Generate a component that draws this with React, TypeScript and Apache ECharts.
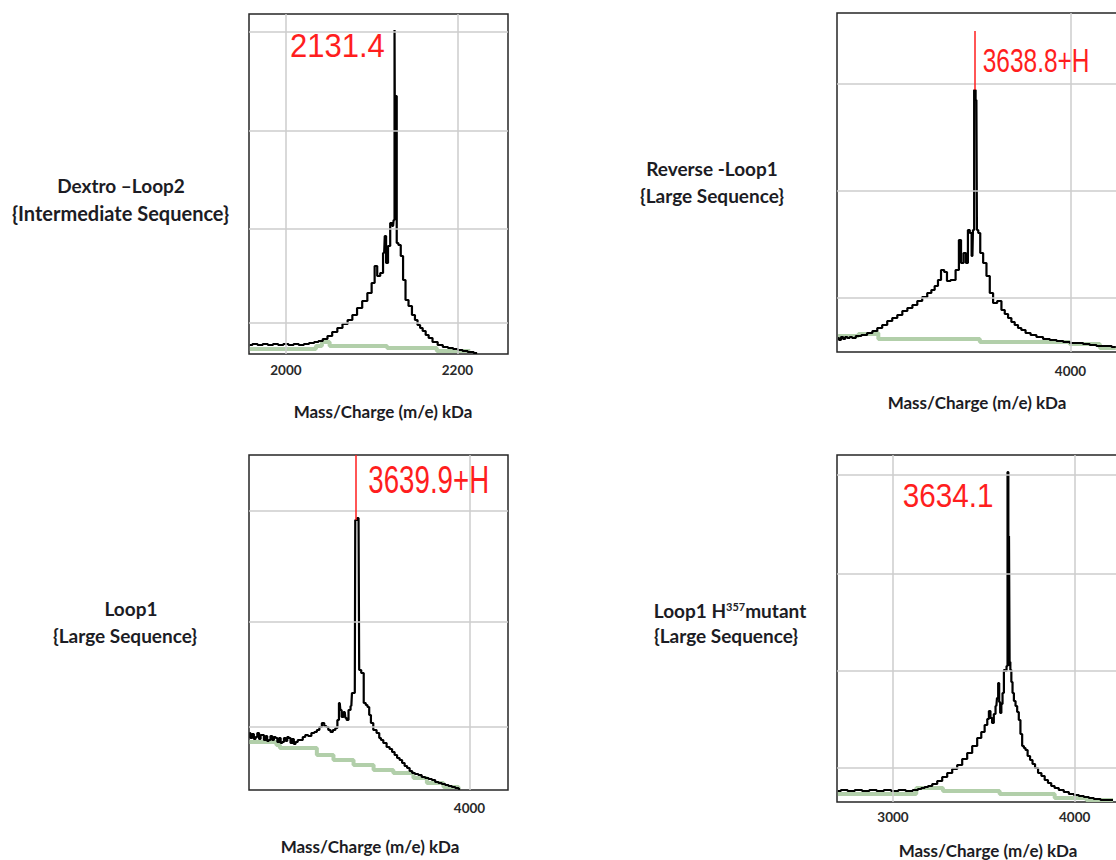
import React, { useEffect, useRef } from "react";
import * as echarts from "echarts";

// ---------- Panel 1: Dextro –Loop2 (m/z vs intensity, a.u.) ----------
const dextroSpectrum: number[][] = [
  [1958, 9], [1964, 10], [1970, 9], [1976, 10], [1982, 9], [1988, 10], [1994, 9], [2000, 10],
  [2006, 9], [2012, 10], [2018, 9], [2024, 10], [2030, 11], [2036, 12], [2040, 13], [2046, 15],
  [2051, 18], [2057, 22], [2063, 26], [2069, 30], [2075, 34], [2080, 39], [2086, 46], [2092, 53],
  [2098, 61], [2102, 71], [2105, 88], [2108, 78], [2112, 81], [2114.6, 101], [2116, 118],
  [2117.7, 91], [2120.5, 108], [2122.8, 131], [2125, 128], [2126.3, 134], [2127.1, 324],
  [2127.9, 134], [2128.7, 258], [2129.8, 111], [2132.6, 109], [2135.3, 98], [2138, 74],
  [2141, 54], [2145, 48], [2149, 39], [2152, 34], [2155, 29], [2158, 26], [2161, 23],
  [2165, 19], [2168, 16], [2174, 12], [2180, 9], [2186, 7], [2192, 6], [2198, 5], [2203, 4],
  [2209, 3], [2215, 2], [2223, 1],
];
const dextroBaseline: number[][] = [
  [1958, 5], [2035, 8], [2042, 12], [2051, 8], [2118, 6], [2176, 3], [2215, 3],
];
const dextroXTicks = [2000, 2200];
const dextroYGrid = [31, 125, 223, 322];

// ---------- Panel 2: Reverse -Loop1 ----------
const reverseSpectrum: number[][] = [
  [3123, 14], [3130, 12], [3138, 15], [3146, 13], [3154, 15], [3162, 14], [3172, 15], [3180, 14],
  [3200, 16], [3222, 17], [3243, 19], [3262, 21], [3280, 24], [3299, 27], [3318, 31], [3337, 34],
  [3356, 37], [3375, 41], [3394, 44], [3413, 47], [3431, 51], [3450, 55], [3469, 59], [3481, 62],
  [3494, 66], [3506, 72], [3517, 82], [3530, 80], [3538, 71], [3557, 72], [3576, 82], [3582, 112],
  [3592, 89], [3601, 99], [3610, 89], [3616, 122], [3624, 119], [3630, 96], [3634, 122],
  [3639, 262], [3645, 252], [3649, 122], [3655, 119], [3664, 99], [3677, 89], [3689, 76],
  [3702, 59], [3714, 49], [3733, 51], [3746, 42], [3758, 38], [3771, 34], [3783, 30], [3796, 27],
  [3808, 24], [3821, 22], [3840, 19], [3859, 17], [3884, 15], [3909, 13], [3935, 12], [3960, 11],
  [3985, 10], [4010, 9], [4035, 9], [4060, 8], [4085, 7], [4111, 6], [4140, 6], [4171, 5],
];
const reverseBaseline: number[][] = [
  [3123, 16], [3200, 18], [3268, 19], [3275, 13], [3658, 10], [3997, 8], [4111, 4], [4171, 4],
];
const reverseXTicks = [4000];
const reverseYGrid = [54, 161, 268];
const reversePeak = { mz: 3639, top: 262, end: 321 };

// ---------- Panel 3: Loop1 ----------
const loop1Spectrum: number[][] = [
  [3298, 57], [3304, 52], [3309, 56], [3315, 51], [3320, 53], [3326, 57], [3331, 51], [3336, 55],
  [3341, 55], [3347, 50], [3352, 54], [3357, 49], [3362, 50], [3368, 54], [3373, 50], [3379, 53],
  [3384, 52], [3390, 48], [3395, 52], [3400, 47], [3405, 48], [3411, 52], [3416, 49], [3421, 53],
  [3426, 52], [3432, 47], [3437, 51], [3442, 46], [3448, 48], [3456, 50], [3464, 50], [3472, 53],
  [3480, 55], [3490, 54], [3501, 57], [3509, 58], [3517, 60], [3525, 63], [3533, 67], [3540, 64],
  [3546, 63], [3553, 60], [3560, 58], [3568, 60], [3576, 62], [3581, 70], [3586, 87], [3590, 80],
  [3594, 73], [3602, 78], [3606, 72], [3610, 70], [3618, 80], [3623, 84], [3627, 97],
  [3634, 97], [3637, 270], [3646, 272], [3650, 120], [3659, 117], [3666, 87], [3672, 85],
  [3677, 83], [3683, 75], [3688, 67], [3698, 60], [3709, 57], [3715, 52], [3720, 50],
  [3730, 47], [3741, 43], [3749, 41], [3757, 38], [3765, 35], [3773, 32], [3781, 30],
  [3789, 27], [3797, 24], [3805, 22], [3813, 19], [3821, 17], [3831, 16], [3842, 15],
  [3853, 13], [3864, 12], [3875, 11], [3885, 10], [3896, 8], [3906, 7], [3917, 6], [3928, 5],
  [3938, 4], [3949, 3], [3960, 2], [3970, 1],
];
const loop1Baseline: number[][] = [
  [3298, 48], [3384, 45], [3395, 42], [3513, 35], [3566, 30], [3630, 25], [3694, 20], [3757, 17],
  [3821, 12], [3864, 7], [3917, 3], [3965, 1],
];
const loop1XTicks = [4000];
const loop1YGrid = [63, 168, 279];
const loop1Peak = { mz: 3638, top: 270, end: 335 };

// ---------- Panel 4: Loop1 H357 mutant ----------
const mutantSpectrum: number[][] = [
  [2697, 11], [2730, 12], [2770, 11], [2810, 12], [2850, 11], [2890, 12], [2930, 11], [2970, 12],
  [3010, 11], [3050, 12], [3090, 11], [3128, 12], [3147, 13], [3165, 14], [3184, 15], [3202, 16],
  [3230, 18], [3257, 21], [3285, 25], [3312, 29], [3340, 33], [3367, 37], [3395, 43], [3422, 49],
  [3450, 56], [3477, 64], [3495, 70], [3514, 77], [3524, 83], [3532, 91], [3541, 84], [3550, 79],
  [3560, 88], [3569, 96], [3576, 104], [3582, 119], [3587, 100], [3593, 89], [3600, 98], [3606, 109],
  [3615, 132], [3622, 131], [3628, 136], [3633, 330], [3637, 136], [3640, 266], [3644, 140],
  [3648, 132], [3655, 120], [3661, 109], [3670, 101], [3679, 96], [3688, 90], [3697, 82],
  [3706, 68], [3716, 56], [3725, 54], [3734, 52], [3748, 46], [3761, 42], [3775, 38], [3789, 34],
  [3808, 29], [3826, 26], [3844, 22], [3862, 19], [3880, 16], [3899, 14], [3926, 12], [3954, 10],
  [3982, 8], [4009, 7], [4037, 6], [4064, 5], [4092, 4], [4119, 3], [4165, 2], [4211, 2],
];
const mutantBaseline: number[][] = [
  [2697, 8], [3128, 14], [3275, 11], [3587, 8], [3890, 4], [4064, 2], [4211, 2],
];
const mutantXTicks = [3000, 4000];
const mutantYGrid = [34, 131, 228, 327];

const LABEL_FONT = "Lato, 'Open Sans', sans-serif";
const RED_FONT = "'Liberation Sans', Arial, sans-serif";
const TEXT_COLOR = "#1c1c24";
const RED = "#ff1e1e";
const GREEN = "#b2cfaa";

type Panel = {
  spectrum: number[][];
  baseline: number[][];
  xTicks: number[];
  yGrid: number[];
  left: number;
  top: number;
  width: number;
  height: number;
  xMin: number;
  xMax: number;
  labelMargin: number;
  peak?: { mz: number; top: number; end: number };
};

const panels: Panel[] = [
  { spectrum: dextroSpectrum, baseline: dextroBaseline, xTicks: dextroXTicks, yGrid: dextroYGrid,
    left: 249, top: 14, width: 259, height: 340, xMin: 1957, xMax: 2259, labelMargin: 9 },
  { spectrum: reverseSpectrum, baseline: reverseBaseline, xTicks: reverseXTicks, yGrid: reverseYGrid,
    left: 837, top: 13, width: 300, height: 339, xMin: 3119, xMax: 4251, labelMargin: 12, peak: reversePeak },
  { spectrum: loop1Spectrum, baseline: loop1Baseline, xTicks: loop1XTicks, yGrid: loop1YGrid,
    left: 249, top: 455, width: 259, height: 335, xMin: 3296.5, xMax: 4122.8, labelMargin: 11, peak: loop1Peak },
  { spectrum: mutantSpectrum, baseline: mutantBaseline, xTicks: mutantXTicks, yGrid: mutantYGrid,
    left: 837, top: 455, width: 300, height: 347, xMin: 2692, xMax: 4343, labelMargin: 8 },
];

function buildOption() {
  const grid: any[] = [];
  const xAxis: any[] = [];
  const yAxis: any[] = [];
  const series: any[] = [];

  panels.forEach((p, i) => {
    grid.push({
      left: p.left, top: p.top, width: p.width, height: p.height,
      outerBoundsMode: "none", containLabel: false,
      show: true, borderColor: "#262626", borderWidth: 1.5, backgroundColor: "#fff",
    });
    xAxis.push({
      type: "value", gridIndex: i, min: p.xMin, max: p.xMax,
      axisLine: { show: false }, axisTick: { show: false }, splitLine: { show: false },
      axisLabel: {
        customValues: p.xTicks, margin: p.labelMargin, fontSize: 13.5, fontWeight: "bold",
        color: "#2a2a2a", fontFamily: LABEL_FONT,
        formatter: (v: number) => String(v),
      },
    });
    yAxis.push({
      type: "value", gridIndex: i, min: 0, max: p.height,
      axisLine: { show: false }, axisTick: { show: false }, splitLine: { show: false },
      axisLabel: { show: false },
    });
    series.push({
      type: "line", xAxisIndex: i, yAxisIndex: i, data: [], z: 1, silent: true,
      markLine: {
        silent: true, symbol: "none", animation: false,
        label: { show: false },
        lineStyle: { color: "#cdcdcd", width: 1.5, type: "solid" },
        data: [
          ...p.xTicks.map((v) => ({ xAxis: v })),
          ...p.yGrid.map((v) => ({ yAxis: v })),
        ],
      },
    });
    series.push({
      type: "line", xAxisIndex: i, yAxisIndex: i, data: p.baseline, step: "end",
      symbol: "none", z: 2, silent: true,
      lineStyle: { color: GREEN, width: 4 },
    });
    const spec: any = {
      type: "line", xAxisIndex: i, yAxisIndex: i, data: p.spectrum, step: "middle",
      symbol: "none", z: 3, silent: true,
      lineStyle: { color: "#000", width: 2.2 },
    };
    if (p.peak) {
      spec.markLine = {
        silent: true, symbol: "none", animation: false,
        label: { show: false },
        lineStyle: { color: RED, width: 1.5, type: "solid" },
        data: [[{ coord: [p.peak.mz, p.peak.top] }, { coord: [p.peak.mz, p.peak.end] }]],
      };
    }
    series.push(spec);
  });

  const boldText = (text: string, x: number, y: number, size = 19) => ({
    type: "text", x, y, silent: true,
    style: {
      text, fill: TEXT_COLOR, fontSize: size, fontWeight: "bold", fontFamily: LABEL_FONT,
      align: "center", verticalAlign: "middle", textAlign: "center", textVerticalAlign: "middle",
    },
  });
  const redText = (text: string, x: number, y: number, size: number, sx: number) => ({
    type: "text", x, y, scaleX: sx, silent: true, z: 10,
    style: {
      text, fill: RED, fontSize: size, fontFamily: RED_FONT,
      align: "left", verticalAlign: "middle", textAlign: "left", textVerticalAlign: "middle",
    },
  });

  const graphic: any[] = [
    boldText("Dextro \u2013Loop2", 121, 185),
    boldText("{Intermediate Sequence}", 120.5, 213, 20),
    boldText("Reverse -Loop1", 712, 168),
    boldText("{Large Sequence}", 712, 195),
    boldText("Loop1", 131, 608),
    boldText("{Large Sequence}", 125, 635),
    {
      type: "text", x: 730, y: 608, silent: true,
      style: {
        text: "{a|Loop1 H}{b|357}{a|mutant}",
        align: "center", verticalAlign: "middle", textAlign: "center", textVerticalAlign: "middle",
        rich: {
          a: { fontSize: 19, fontWeight: "bold", fontFamily: LABEL_FONT, fill: TEXT_COLOR, lineHeight: 24, verticalAlign: "bottom" },
          b: { fontSize: 11, fontWeight: "bold", fontFamily: LABEL_FONT, fill: TEXT_COLOR, lineHeight: 11, verticalAlign: "bottom", padding: [0, 0, 8, 0] },
        },
      },
    },
    boldText("{Large Sequence}", 726, 635),
    boldText("Mass/Charge (m/e) kDa", 383, 411, 17),
    boldText("Mass/Charge (m/e) kDa", 977, 402, 17),
    boldText("Mass/Charge (m/e) kDa", 370, 846, 17),
    boldText("Mass/Charge (m/e) kDa", 988, 850, 17),
    redText("2131.4", 290, 46, 33, 0.94),
    redText("3638.8+H", 982.7, 59.5, 34, 0.72),
    redText("3639.9+H", 368.3, 479.5, 39, 0.71),
    redText("3634.1", 902.7, 496, 33, 0.9),
  ];

  return {
    animation: false,
    backgroundColor: "#ffffff",
    grid, xAxis, yAxis, series, graphic,
  };
}

export default function App() {
  const ref = useRef<HTMLDivElement>(null);
  useEffect(() => {
    if (!ref.current) return;
    const chart = echarts.init(ref.current, undefined, { renderer: "svg" });
    chart.setOption(buildOption() as any);
    return () => chart.dispose();
  }, []);
  return (
    <div
      ref={ref}
      style={{ position: "absolute", left: 0, top: 0, width: 1116, height: 860, background: "#fff" }}
    />
  );
}
